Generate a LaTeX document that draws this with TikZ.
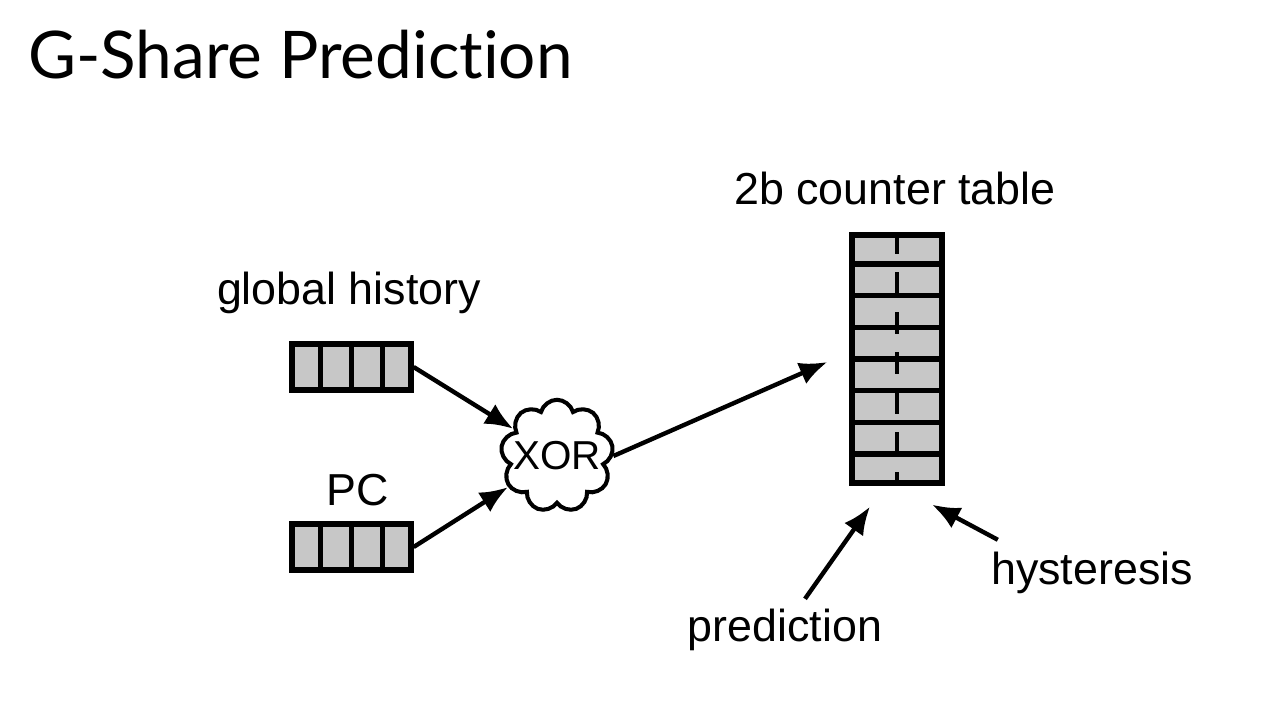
\documentclass[tikz,border=0pt]{standalone}
\usepackage{fontspec}
\setmainfont{Liberation Sans}
\newfontfamily\titlefont[Ligatures=NoCommon]{Lato}
\usetikzlibrary{
    arrows.meta,    % For arrow tips
    shapes.symbols, % For the cloud
    calc,           % For cell dividers
    positioning
}

\begin{document}
\begin{tikzpicture}[
    x=0.02cm, y=-0.02cm, % one unit = one pixel of the slide
    >={Latex[length=0.56cm, width=0.46cm]}, % Default arrow tip
    link/.style={->, line width=2.5pt},     % Style for arrows
    regbox/.style={draw, line width=3pt, fill=black!22, inner sep=0pt,
        minimum width=2.38cm, minimum height=0.92cm}, % Shift registers
    tablebox/.style={draw, line width=3pt, fill=black!22, inner sep=0pt,
        minimum width=1.8cm, minimum height=4.96cm},  % Counter table
    lbl/.style={font=\fontsize{25.5}{30}\selectfont, inner sep=0pt}
]

    % Fix the slide size
    \useasboundingbox (0,0) rectangle (1270,718);

    % Title
    \node[anchor=base west, inner sep=0pt, font=\titlefont\fontsize{37.4}{44}\selectfont]
        (title) at (28,78) {G-Share Prediction};

    % Registers
    \node[regbox] (gh) at (351.5,367) {};
    \node[regbox] (pc) at (351.5,547) {};
    \foreach \r in {gh,pc}
        \foreach \i in {1,2,3}
            \draw[line width=3pt] ($(\r.north west)!\i/4!(\r.north east)$)
                -- ($(\r.south west)!\i/4!(\r.south east)$);

    \node[lbl] (ghlabel) at (349,293) {global history};
    \node[lbl] (pclabel) at (358,490) {PC};

    % XOR cloud
    \node[cloud, draw, line width=2.3pt, fill=white, cloud puffs=9, aspect=1,
        inner sep=-0.27cm, minimum width=2.25cm, minimum height=2.25cm,
        font=\fontsize{23}{26}\selectfont] (xor) at (557,456) {XOR};

    % Counter table
    \node[tablebox] (tab) at (897,359) {};
    \foreach \i in {1,...,7}
        \draw[line width=3pt] ($(tab.north west)!\i/8!(tab.south west)$)
            -- ($(tab.north east)!\i/8!(tab.south east)$);
    \draw[line width=2.8pt, dash pattern=on 0.44cm off 0.36cm] (tab.north) -- (tab.south);
    \node[lbl] (tablabel) at (895,188) {2b counter table};

    % Bit labels
    \node[lbl] (pred) at (785,630) {prediction};
    \node[lbl] (hyst) at (1092,573) {hysteresis};

    % Arrows
    \coordinate (tabin) at ([xshift=-0.44cm, yshift=-0.06cm]tab.west);
    \coordinate (predin) at ([xshift=-0.54cm, yshift=-0.42cm]tab.south);
    \coordinate (hystin) at ([xshift=0.7cm, yshift=-0.38cm]tab.south);

    \draw[link] (gh.east) -- (xor);
    \draw[link] (pc.east) -- (xor);
    \draw[link] (xor.east) -- (tabin);
    \draw[link] ([xshift=0.4cm, yshift=0.2cm]pred.north) -- (predin);
    \draw[link] ([xshift=0.14cm, yshift=0.24cm]hyst.north west) -- (hystin);

\end{tikzpicture}
\end{document}
